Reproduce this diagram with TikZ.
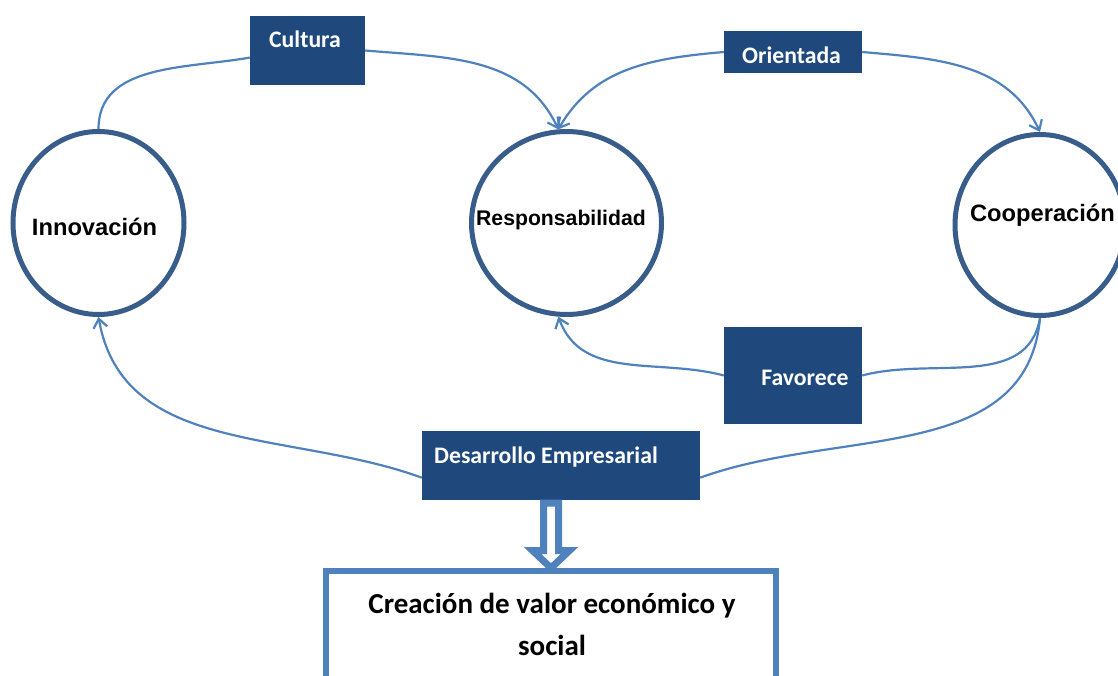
\documentclass[tikz,border=0pt]{standalone}
\usepackage{fontspec}
\setmainfont{Carlito}
\newfontfamily\arialfont{Liberation Sans}
\usetikzlibrary{arrows.meta}
\usetikzlibrary{calc}
\usetikzlibrary{shapes.geometric}
\definecolor{boxblue}{RGB}{31,73,125}
\definecolor{ringblue}{RGB}{56,93,138}
\definecolor{lineblue}{RGB}{79,129,189}

\begin{document}
\begin{tikzpicture}[x=1pt, y=1pt,
  ring/.style={ellipse, draw=ringblue, line width=5pt, inner sep=0pt},
  ringtext/.style={inner sep=0pt, font=\arialfont\bfseries\fontsize{23.7}{28}\selectfont},
  darkbox/.style={rectangle, fill=boxblue, inner sep=0pt},
  boxtext/.style={inner sep=0pt, text=white, font=\bfseries\fontsize{23.7}{28}\selectfont},
  link/.style={draw=lineblue, line width=2.2pt},
  tip/.style={-{Straight Barb[length=9pt, width=14pt]}}]
  \useasboundingbox (0,0) rectangle (1118,675);

  % the three values
  \node[ring, minimum width=171pt, minimum height=183pt] (1) at (98.5,452) {};
  \node[ring, minimum width=190pt, minimum height=183pt] (2) at (566.5,452) {};
  \node[ring, minimum width=170pt, minimum height=181pt] (3) at (1040,450) {};
  \node[ringtext] (t1) at (94.5,448) {Innovación};
  \node[ringtext, font=\arialfont\bfseries\fontsize{21.2}{26}\selectfont] (t2) at (561,455) {Responsabilidad};
  \node[ringtext] (t3) at (1042.5,460) {Cooperación};

  % the boxes on the links
  \node[darkbox, minimum width=115pt, minimum height=69pt] (4) at (307.5,624.5) {};
  \node[darkbox, minimum width=138pt, minimum height=42pt] (5) at (793,623) {};
  \node[darkbox, minimum width=138pt, minimum height=97pt] (6) at (793,299.5) {};
  \node[darkbox, minimum width=278pt, minimum height=69pt] (7) at (561,209.5) {};
  \node[boxtext] (t4) at (305,636) {Cultura};
  \node[boxtext] (t5) at (791.5,620) {Orientada};
  \node[boxtext] (t6) at (805,297) {Favorece};
  \node[boxtext] (t7) at (546,218) {Desarrollo Empresarial};

  \node[rectangle, draw=lineblue, line width=6pt, minimum width=450pt, minimum height=154pt] (8) at (551,27) {};
  \node[inner sep=0pt, align=center, font=\bfseries\fontsize{29}{42}\selectfont] (t8) at (552,51) {Creación de valor económico y\\social};

  \draw[link] (1.north) to[out=90, in=190] (4.187);
  \draw[link, tip] (4.east) to[out=-5, in=115] (2.95);
  \draw[link, tip] (5.west) to[out=185, in=60] (2.95);
  \draw[link, tip] (5.east) to[out=-5, in=115] (3.north);
  \draw[link] (3.south) to[out=-100, in=15] (6.east);
  \draw[link, tip] (6.west) to[out=165, in=-70] (2.265);
  \draw[link] (3.south) to[out=-95, in=20] (7.355);
  \draw[link, tip] (7.185) to[out=160, in=-80] (1.south);

  % hollow arrow down to the result
  \coordinate (a) at (8.north |- 7.south);
  \draw[lineblue, line width=7pt, fill=white] ($(a)+(-7.5,-3)$) -- ($(a)+(7.5,-3)$)
    -- ($(8.north)+(7.5,17.5)$) -- ($(8.north)+(18.5,17.5)$) -- (8.north)
    -- ($(8.north)+(-18.5,17.5)$) -- ($(8.north)+(-7.5,17.5)$) -- cycle;
\end{tikzpicture}
\end{document}
